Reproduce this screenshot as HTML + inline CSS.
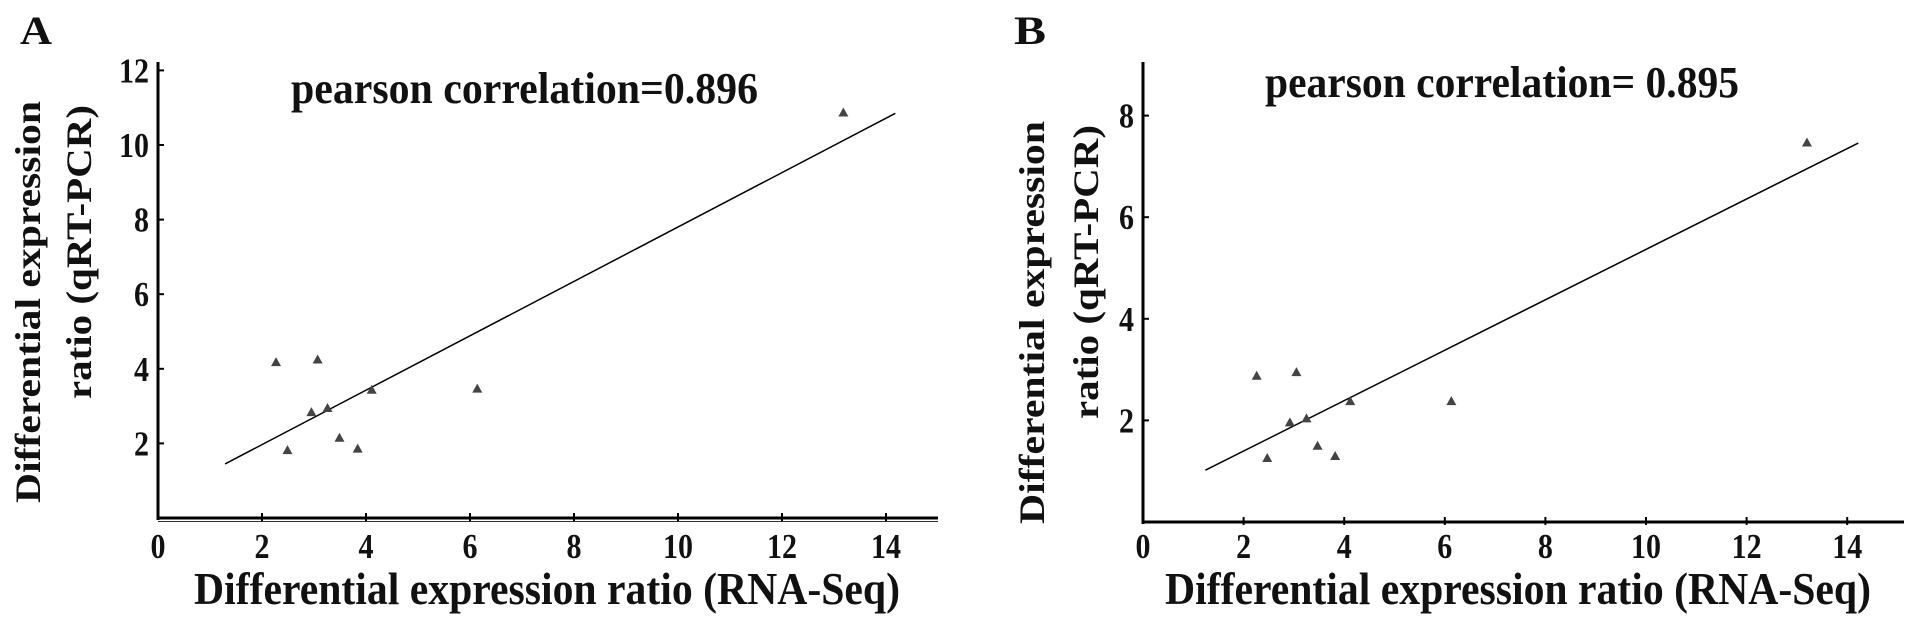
<!DOCTYPE html>
<html><head><meta charset="utf-8"><style>
html,body{margin:0;padding:0;background:#fff;}
svg{display:block;}
text{font-family:"Liberation Serif",serif;font-weight:bold;fill:#111;}
</style></head><body>
<svg id="fig" width="1913" height="628" viewBox="0 0 1913 628" xmlns="http://www.w3.org/2000/svg"></svg>
<script>
// Panel A data
const xTicks = [0,2,4,6,8,10,12,14];
const yTicksA = [2,4,6,8,10,12];
const xA = [2.27,3.07,2.95,3.26,4.11,6.14,2.49,3.49,3.84,13.18];
const yA = [4.18,4.25,2.84,2.95,3.44,3.47,1.82,2.15,1.86,10.87];
const fitA = [[1.29,1.45],[14.18,10.85]];
const corrA = "pearson correlation=0.896";
// Panel B data
const yTicksB = [2,4,6,8];
const xB = [2.26,3.05,2.92,3.25,4.12,6.13,2.47,3.47,3.82,13.2];
const yB = [2.88,2.95,1.96,2.04,2.38,2.38,1.26,1.50,1.30,7.47];
const fitB = [[1.24,1.02],[14.22,7.46]];
const corrB = "pearson correlation= 0.895";

const NS="http://www.w3.org/2000/svg";
const svg=document.getElementById('fig');
function mk(tag,attrs,parent,txt){const e=document.createElementNS(NS,tag);for(const k in attrs)e.setAttribute(k,attrs[k]);if(txt!==undefined)e.textContent=txt;(parent||svg).appendChild(e);return e;}

function panel(P){
  const g=mk('g',{});
  
  
  const sx=v=>P.x0+v*P.ux, sy=v=>P.y0-v*P.uy;
  const lab=mk('text',{x:P.labX,y:44,'font-size':40,textLength:32,lengthAdjust:'spacingAndGlyphs'},g,P.label);
  
  
  const ya=mk('line',{x1:P.x0,y1:62,x2:P.x0,y2:P.y0+2,stroke:'#000','stroke-width':3},g);
  
  
  const xa=mk('line',{x1:P.x0,y1:P.y0,x2:P.xEnd,y2:P.y0,stroke:'#000','stroke-width':3},g);
  
  
  if(P.dbl){const x2=mk('line',{x1:P.x0,y1:P.y0+3.5,x2:P.xEnd,y2:P.y0+3.5,stroke:'#333','stroke-width':1},g);
    
    }
  xTicks.forEach(t=>{
    if(t>0){const tk=mk('line',{x1:sx(t),y1:P.y0-5,x2:sx(t),y2:P.y0+3,stroke:'#000','stroke-width':2},g);
      
      }
    const s=String(t);
    const tl=mk('text',{x:sx(t),y:558,'font-size':35,'text-anchor':'middle',textLength:s.length>1?30:15,lengthAdjust:'spacingAndGlyphs'},g,s);
    
    
  });
  P.yTicks.forEach(t=>{
    const tk=mk('line',{x1:P.x0,y1:sy(t),x2:P.x0+6,y2:sy(t),stroke:'#000','stroke-width':2},g);
    
    
    const s=String(t);
    const tl=mk('text',{x:P.x0-9,y:sy(t)+12,'font-size':35,'text-anchor':'end',textLength:s.length>1?30:15,lengthAdjust:'spacingAndGlyphs'},g,s);
    
    
  });
  const fl=mk('line',{x1:sx(P.fit[0][0]),y1:sy(P.fit[0][1]),x2:sx(P.fit[1][0]),y2:sy(P.fit[1][1]),stroke:'#000','stroke-width':1.5},g);
  
  
  P.xs.forEach((xv,i)=>{
    const cx=sx(xv), cy=sy(P.ys[i]);
    const tri=mk('polygon',{points:`${cx-5},${cy+4} ${cx+5},${cy+4} ${cx},${cy-5}`,fill:'#444'},g);
    
    
  });
  const ct=mk('text',{x:P.corrX,y:P.corrY,'font-size':44,textLength:P.corrW,lengthAdjust:'spacingAndGlyphs'},g,P.corr);
  
  
  const xt=mk('text',{x:P.xtX,y:604,'font-size':46,textLength:706,lengthAdjust:'spacingAndGlyphs'},g,'Differential expression ratio (RNA-Seq)');
  
  
  const y1=mk('text',{x:0,y:0,'font-size':36,'text-anchor':'end',textLength:P.yt1L,lengthAdjust:'spacingAndGlyphs',transform:`translate(${P.yt1X},${P.ytTop}) rotate(-90)`},g,'Differential expression');
  
  
  const y2=mk('text',{x:0,y:0,'font-size':36,'text-anchor':'end',textLength:P.yt2L,lengthAdjust:'spacingAndGlyphs',transform:`translate(${P.yt2X},${P.ytTop+4}) rotate(-90)`},g,'ratio (qRT-PCR)');
  
  
}

panel({name:'panel-a',label:'A',labX:20,x0:158,y0:518,ux:52,uy:37.3,xEnd:938,dbl:true,
  yTicks:yTicksA,xs:xA,ys:yA,fit:fitA,corr:corrA,corrX:291,corrY:103,corrW:467,
  xtX:194,yt1X:40,yt2X:91,ytTop:101,yt1L:402,yt2L:294});
panel({name:'panel-b',label:'B',labX:1014,x0:1143,y0:522,ux:50.3,uy:50.8,xEnd:1904,dbl:false,
  yTicks:yTicksB,xs:xB,ys:yB,fit:fitB,corr:corrB,corrX:1265,corrY:97,corrW:474,
  xtX:1165,yt1X:1044,yt2X:1098,ytTop:121,yt1L:403,yt2L:294});
</script>
</body></html>
